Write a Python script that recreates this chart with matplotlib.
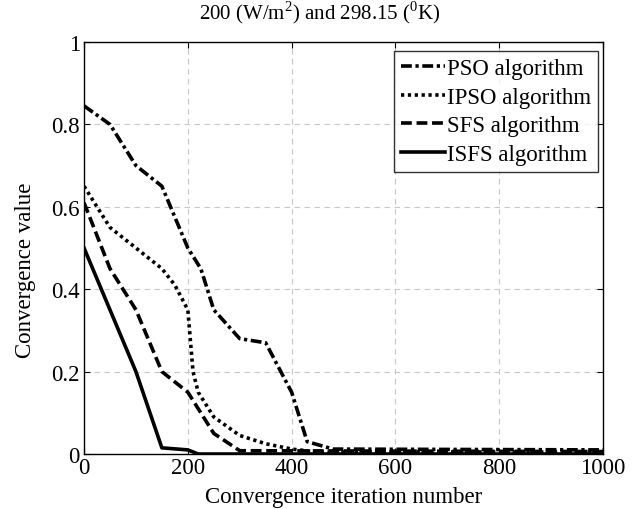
import matplotlib
matplotlib.use("Agg")
import matplotlib.pyplot as plt

plt.rcParams['font.family'] = ['Liberation Serif', 'DejaVu Serif']
plt.rcParams['mathtext.fontset'] = 'custom'
plt.rcParams['mathtext.rm'] = 'Liberation Serif'

pso_x = [0, 50, 100, 150, 200, 225, 250, 300, 350, 400, 430, 480, 1000]
pso_y = [0.845, 0.8, 0.7, 0.65, 0.5, 0.45, 0.35, 0.28, 0.27, 0.15, 0.03, 0.012, 0.01]

ipso_x = [0, 50, 100, 150, 175, 200, 210, 220, 250, 300, 350, 400, 450, 1000]
ipso_y = [0.65, 0.55, 0.5, 0.45, 0.41, 0.35, 0.2, 0.15, 0.09, 0.045, 0.025, 0.012, 0.005, 0.005]

sfs_x = [0, 50, 100, 150, 200, 250, 300, 1000]
sfs_y = [0.61, 0.45, 0.35, 0.2, 0.15, 0.05, 0.008, 0.006]

isfs_x = [0, 50, 100, 150, 200, 220, 1000]
isfs_y = [0.5, 0.35, 0.2, 0.015, 0.01, 0.0, 0.0]

labels = ['PSO algorithm', 'IPSO algorithm', 'SFS algorithm', 'ISFS algorithm']
xticks = [0, 200, 400, 600, 800, 1000]
yticks = [0, 0.2, 0.4, 0.6, 0.8, 1]
ytick_labels = ['0', '0.2', '0.4', '0.6', '0.8', '1']

fs = 16.5

fig = plt.figure(figsize=(6.39, 5.10), dpi=100)
ax = fig.add_axes([0.1315, 0.1078, 0.8122, 0.8079])

lw = 2.6
ax.plot(pso_x, pso_y, color='black', lw=lw, linestyle=(0, (3.0, 1.0, 0.9, 1.0)), label=labels[0])
ax.plot(ipso_x, ipso_y, color='black', lw=lw, linestyle=(0, (0.9, 1.0)), label=labels[1])
ax.plot(sfs_x, sfs_y, color='black', lw=lw, linestyle=(0, (3.0, 1.3)), label=labels[2])
ax.plot(isfs_x, isfs_y, color='black', lw=lw, linestyle='-', label=labels[3])

ax.set_xlim(0, 1000)
ax.set_ylim(0, 1)
ax.set_xticks(xticks)
ax.set_yticks(yticks)
ax.set_yticklabels(ytick_labels)
ax.tick_params(direction='in', labelsize=fs, length=4, top=True, right=True)
ax.tick_params(axis='x', pad=2)
ax.tick_params(axis='y', pad=3)
ax.grid(True, color='#c8c8c8', linestyle=(0, (5, 4)), lw=0.8)
for s in ax.spines.values():
    s.set_linewidth(1.0)

ax.set_xlabel('Convergence iteration number', fontsize=fs)
ax.xaxis.set_label_coords(0.5, -0.078, transform=ax.transAxes)
ax.xaxis.label.set_va('top')
ax.set_ylabel('Convergence value', fontsize=fs)
ax.yaxis.set_label_coords(-0.093, 0.449)
fig.text(0.5, 1 - 19 / 510, r'200 (W/m$^{2}$) and 298.15 ($^{0}$K)',
         fontsize=15, ha='center', va='baseline')

leg = ax.legend(loc='upper right', bbox_to_anchor=(598 / 639, 1 - 52 / 510),
                bbox_transform=fig.transFigure,
                fontsize=fs, frameon=True, fancybox=False,
                edgecolor='black', handlelength=1.9, handletextpad=0.1,
                labelspacing=0.33, borderpad=0.3, borderaxespad=0.0)
leg.get_frame().set_linewidth(1.0)

fig.savefig('out.png', dpi=100, facecolor='white')
